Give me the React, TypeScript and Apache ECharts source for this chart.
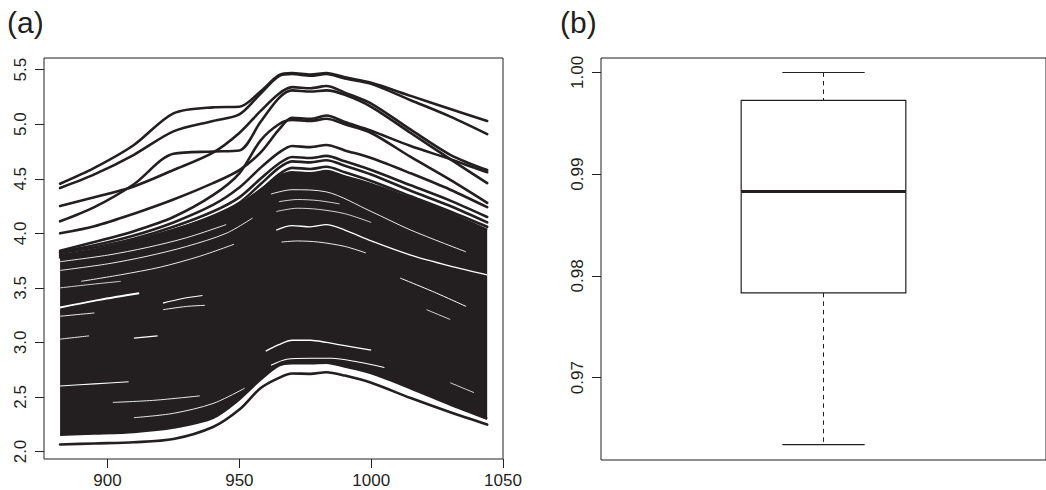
import React, { useEffect, useRef } from 'react';
import * as echarts from 'echarts';

const INK = '#231f20';
const FONT = '"Liberation Sans", Arial, Helvetica, sans-serif';

// ---- panel (a): spectra ----
const wavelengths = [882, 895, 910, 925, 940, 950, 958, 965, 970, 977, 983, 990, 1000, 1015, 1030, 1044];

// envelope of the dense mass of spectra
const denseTop = [3.78, 3.84, 3.93, 4.03, 4.15, 4.26, 4.4, 4.52, 4.56, 4.55, 4.57, 4.52, 4.45, 4.32, 4.18, 4.03];
const denseBottom = [2.155, 2.165, 2.18, 2.22, 2.31, 2.48, 2.66, 2.79, 2.81, 2.81, 2.815, 2.78, 2.72, 2.58, 2.43, 2.3];
const lowestSpectrum = [2.064, 2.074, 2.085, 2.115, 2.225, 2.385, 2.58, 2.675, 2.715, 2.712, 2.727, 2.696, 2.63, 2.49, 2.36, 2.247];

// individual spectra above the dense mass
const spectrumF3 = [3.78, 3.83, 3.9, 4.0, 4.12, 4.23, 4.39, 4.54, 4.6, 4.59, 4.61, 4.56, 4.48, 4.34, 4.2, 4.06];
const spectrumF2 = [3.8, 3.85, 3.93, 4.03, 4.16, 4.28, 4.45, 4.6, 4.66, 4.65, 4.67, 4.62, 4.54, 4.39, 4.25, 4.1];
const spectrumF1 = [3.82, 3.87, 3.95, 4.06, 4.2, 4.33, 4.5, 4.64, 4.7, 4.69, 4.71, 4.66, 4.58, 4.44, 4.3, 4.15];
const spectrumP5 = [3.83, 3.89, 3.98, 4.1, 4.26, 4.42, 4.6, 4.74, 4.8, 4.79, 4.81, 4.76, 4.69, 4.55, 4.4, 4.24];
const spectrumQ = [3.84, 3.92, 4.02, 4.15, 4.35, 4.55, 4.85, 5.0, 5.04, 5.03, 5.05, 5.0, 4.92, 4.7, 4.49, 4.28];
const spectrumT5 = [4.0, 4.065, 4.18, 4.31, 4.46, 4.58, 4.74, 4.95, 5.06, 5.05, 5.08, 5.02, 4.94, 4.8, 4.68, 4.56];
const spectrumT4 = [4.11, 4.24, 4.45, 4.73, 4.75, 4.76, 5.02, 5.24, 5.31, 5.3, 5.31, 5.27, 5.16, 4.92, 4.68, 4.46];
const spectrumT3 = [4.25, 4.33, 4.43, 4.58, 4.74, 4.92, 5.12, 5.28, 5.34, 5.33, 5.35, 5.29, 5.19, 4.95, 4.72, 4.58];
const spectrumT2 = [4.416, 4.54, 4.72, 4.935, 5.03, 5.09, 5.28, 5.44, 5.46, 5.445, 5.46, 5.42, 5.37, 5.22, 5.07, 4.91];
const spectrumT1 = [4.455, 4.6, 4.81, 5.1, 5.155, 5.16, 5.3, 5.45, 5.47, 5.455, 5.47, 5.43, 5.38, 5.26, 5.14, 5.03];

// thin white gaps visible between spectra inside the dense mass ([wavelength, value])
const gapA = [[882, 3.74], [900, 3.8], [915, 3.87], [930, 3.96], [945, 4.08]];
const gapB = [[882, 3.66], [900, 3.72], [915, 3.79], [930, 3.88], [945, 4.0], [955, 4.14]];
const gapC = [[890, 3.56], [905, 3.62], [920, 3.69], [935, 3.79], [948, 3.9]];
const gapD = [[882, 3.32], [897, 3.39], [912, 3.45]];
const gapE = [[882, 3.24], [895, 3.27]];
const gapF = [[921, 3.36], [928, 3.4], [936, 3.43]];
const gapG = [[921, 3.3], [930, 3.33], [937, 3.34]];
const gapH = [[882, 3.03], [893, 3.06]];
const gapI = [[910, 3.04], [919, 3.06]];
const gapJ = [[882, 2.6], [895, 2.62], [908, 2.64]];
const gapK = [[902, 2.45], [918, 2.47], [935, 2.51]];
const gapL = [[910, 2.31], [925, 2.35], [940, 2.44], [952, 2.58]];
const gapM = [[960, 2.92], [965, 2.98], [970, 3.02], [977, 3.02], [983, 3.0], [990, 2.97], [1000, 2.93]];
const gapN = [[962, 2.79], [968, 2.845], [977, 2.855], [985, 2.855], [995, 2.82], [1005, 2.77]];
const gapO = [[964, 4.03], [970, 4.07], [977, 4.06], [983, 4.08], [990, 4.03], [1000, 3.93], [1015, 3.8], [1030, 3.7], [1044, 3.62]];
const gapP = [[962, 4.36], [970, 4.4], [983, 4.38], [1000, 4.2], [1015, 4.03], [1036, 3.83]];
const gapQ = [[965, 4.29], [972, 4.31], [980, 4.3], [988, 4.27]];
const gapR = [[966, 3.92], [972, 3.93], [980, 3.92], [990, 3.88], [998, 3.82]];
const gapS = [[1011, 3.59], [1024, 3.46], [1036, 3.33]];
const gapT = [[1021, 3.3], [1030, 3.21]];
const gapU = [[1030, 2.63], [1039, 2.54]];
const gapV = [[964, 4.2], [972, 4.23], [980, 4.22], [990, 4.18], [1000, 4.1]];
const gapW = [[882, 3.5], [893, 3.53], [905, 3.56]];

const xTicksA = [900, 950, 1000, 1050];
const yTicksA = [2.0, 2.5, 3.0, 3.5, 4.0, 4.5, 5.0, 5.5];

// ---- panel (b): boxplot ----
const boxStats = [0.96341, 0.97833, 0.9883, 0.99725, 1.0]; // min, q1, median, q3, max
const yTicksB = [0.97, 0.98, 0.99, 1.0];

const pairs = (ys: number[]) => wavelengths.map((w, i) => [w, ys[i]]);

const lineBase = {
  type: 'line',
  xAxisIndex: 0,
  yAxisIndex: 0,
  smooth: 0.3,
  symbol: 'none',
  showSymbol: false,
  silent: true,
  animation: false,
};

const blackCurve = (ys: number[]) => ({
  ...lineBase,
  data: pairs(ys),
  lineStyle: { color: INK, width: 2.6, cap: 'round', join: 'round' },
});

const whiteGap = (pts: number[][], width = 0.9) => ({
  ...lineBase,
  data: pts,
  lineStyle: { color: '#ffffff', width, cap: 'butt' },
});

export default function App() {
  const ref = useRef<HTMLDivElement>(null);

  useEffect(() => {
    if (!ref.current) return;
    const chart = echarts.init(ref.current, undefined, { renderer: 'svg' });

    const axisLabelStyle = { color: INK, fontSize: 17, fontFamily: FONT };

    const option: any = {
      animation: false,
      backgroundColor: '#ffffff',
      graphic: [
        { type: 'text', x: 7, y: 22, style: { text: '(a)', fill: INK, fontSize: 30, fontFamily: FONT, verticalAlign: 'middle' } },
        { type: 'text', x: 560, y: 22, style: { text: '(b)', fill: INK, fontSize: 30, fontFamily: FONT, verticalAlign: 'middle' } },
      ],
      grid: [
        { left: 44, top: 58, width: 459, height: 401, show: true, borderColor: INK, borderWidth: 1, backgroundColor: 'transparent' },
        { left: 601, top: 58, width: 460, height: 402, show: true, borderColor: INK, borderWidth: 1, backgroundColor: 'transparent' },
      ],
      xAxis: [
        {
          type: 'value', gridIndex: 0, min: 875.9, max: 1050,
          axisLine: { show: false },
          splitLine: { show: false },
          axisTick: { show: true, length: 9, lineStyle: { color: INK, width: 1 }, customValues: xTicksA },
          axisLabel: { ...axisLabelStyle, margin: 13, customValues: xTicksA, formatter: (v: number) => String(Math.round(v)) },
        },
        { type: 'value', gridIndex: 1, min: 0, max: 2, show: false },
      ],
      yAxis: [
        {
          type: 'value', gridIndex: 0, min: 1.9313, max: 5.6072,
          axisLine: { show: false },
          splitLine: { show: false },
          axisTick: { show: true, length: 9, lineStyle: { color: INK, width: 1 }, customValues: yTicksA },
          axisLabel: { ...axisLabelStyle, rotate: 90, margin: 15, customValues: yTicksA, formatter: (v: number) => v.toFixed(1) },
        },
        {
          type: 'value', gridIndex: 1, min: 0.9619, max: 1.00142,
          axisLine: { show: false },
          splitLine: { show: false },
          axisTick: { show: true, length: 9, lineStyle: { color: INK, width: 1 }, customValues: yTicksB },
          axisLabel: { ...axisLabelStyle, rotate: 90, margin: 15, customValues: yTicksB, formatter: (v: number) => v.toFixed(2) },
        },
      ],
      series: [
        // lower edge of the dense mass (base of the stacked band); column 0 = value so it is the stacked dim
        {
          ...lineBase,
          stack: 'dense',
          encode: { x: 1, y: 0 },
          data: wavelengths.map((w, i) => [denseBottom[i], w]),
          lineStyle: { color: INK, width: 2.6 },
        },
        // dense mass of spectra: filled between its lower and upper envelope
        {
          ...lineBase,
          stack: 'dense',
          encode: { x: 1, y: 0 },
          data: wavelengths.map((w, i) => [denseTop[i] - denseBottom[i], w]),
          lineStyle: { color: INK, width: 2.6 },
          areaStyle: { color: INK, opacity: 1 },
        },
        blackCurve(lowestSpectrum),
        whiteGap(gapA), whiteGap(gapB), whiteGap(gapC), whiteGap(gapD, 2.0), whiteGap(gapE),
        whiteGap(gapF, 1.2), whiteGap(gapG), whiteGap(gapH), whiteGap(gapI, 1.2), whiteGap(gapJ, 1.1),
        whiteGap(gapK), whiteGap(gapL), whiteGap(gapM, 1.3), whiteGap(gapN, 1.1), whiteGap(gapO, 1.3),
        whiteGap(gapP), whiteGap(gapQ, 0.8), whiteGap(gapR), whiteGap(gapS, 1.0), whiteGap(gapT, 0.8), whiteGap(gapU, 0.8),
        whiteGap(gapV, 0.8), whiteGap(gapW, 0.8),
        blackCurve(spectrumF3),
        blackCurve(spectrumF2),
        blackCurve(spectrumF1),
        blackCurve(spectrumP5),
        blackCurve(spectrumQ),
        blackCurve(spectrumT5),
        blackCurve(spectrumT4),
        blackCurve(spectrumT3),
        blackCurve(spectrumT2),
        blackCurve(spectrumT1),
        {
          type: 'custom',
          xAxisIndex: 1,
          yAxisIndex: 1,
          silent: true,
          data: [[1, ...boxStats]],
          encode: { x: 0, y: [1, 2, 3, 4, 5] },
          renderItem: (params: any, api: any) => {
            const x = api.value(0);
            const pMin = api.coord([x, api.value(1)]);
            const pQ1 = api.coord([x, api.value(2)]);
            const pMed = api.coord([x, api.value(3)]);
            const pQ3 = api.coord([x, api.value(4)]);
            const pMax = api.coord([x, api.value(5)]);
            const half = api.size([0.74, 0])[0] / 2;
            const capHalf = half / 2;
            const cx = pMed[0];
            const dashed = { stroke: INK, lineWidth: 1, lineDash: [4.5, 4] };
            const solid = { stroke: INK, lineWidth: 1.1 };
            return {
              type: 'group',
              children: [
                { type: 'line', shape: { x1: cx, y1: pMax[1], x2: cx, y2: pQ3[1] }, style: dashed },
                { type: 'line', shape: { x1: cx, y1: pQ1[1], x2: cx, y2: pMin[1] }, style: dashed },
                { type: 'line', shape: { x1: cx - capHalf, y1: pMax[1], x2: cx + capHalf, y2: pMax[1] }, style: solid },
                { type: 'line', shape: { x1: cx - capHalf, y1: pMin[1], x2: cx + capHalf, y2: pMin[1] }, style: solid },
                { type: 'rect', shape: { x: cx - half, y: pQ3[1], width: 2 * half, height: pQ1[1] - pQ3[1] }, style: { fill: 'none', stroke: INK, lineWidth: 1.2 } },
                { type: 'line', shape: { x1: cx - half, y1: pMed[1], x2: cx + half, y2: pMed[1] }, style: { stroke: INK, lineWidth: 3 } },
              ],
            };
          },
        },
      ],
    };

    chart.setOption(option);
    return () => chart.dispose();
  }, []);

  return (
    <div
      ref={ref}
      style={{ position: 'absolute', left: 0, top: 0, width: 1046, height: 490, background: '#fff' }}
    />
  );
}
